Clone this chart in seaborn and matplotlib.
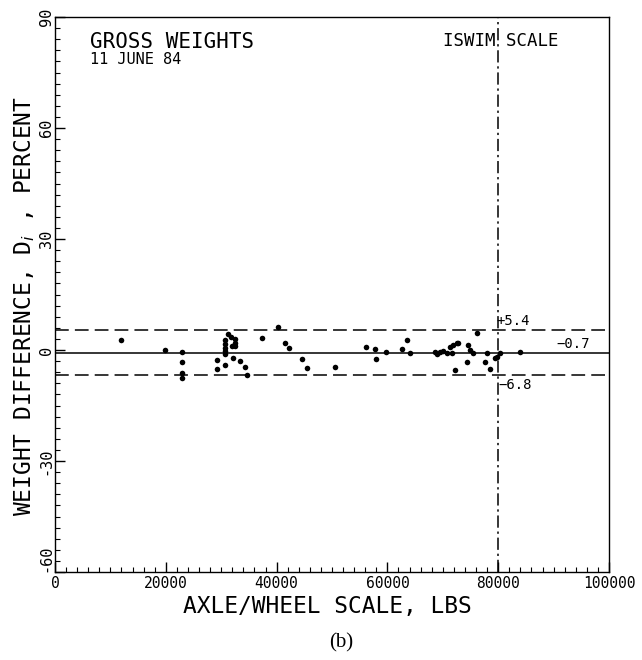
import matplotlib
matplotlib.use("Agg")
import matplotlib.pyplot as plt
import seaborn as sns
import pandas as pd
from matplotlib.ticker import MultipleLocator

# Data
axle_lbs = [12000, 19900, 22900, 22900, 22900, 22900,
            30700, 30700, 30700, 30700, 30700, 31300, 31700, 31900,
            29200, 29200, 30700, 32200, 32500, 32500, 32500, 33400, 34600, 34300,
            40300, 37300, 41500, 42300, 44500, 45400, 50500,
            56100, 57800, 58000, 59700, 62700, 63500, 64100,
            68600, 69000, 69500, 70100, 70700, 71300, 71900, 72500, 72800, 71600,
            74300, 72200, 74600, 74900, 75500, 76100, 77900, 77600, 78500,
            79700, 79400, 80300, 84000]
diff_pct = [2.7, 0.0, -0.5, -3.2, -6.3, -7.5,
            2.7, 1.6, 0.6, -0.3, -1.0, 4.2, 3.6, 1.2,
            -2.7, -5.0, -4.0, -2.2, 3.0, 2.0, 1.0, -2.9, -6.8, -4.5,
            6.3, 3.2, 1.8, 0.5, -2.5, -4.8, -4.5,
            0.7, 0.4, -2.5, -0.6, 0.4, 2.7, -0.9,
            -0.5, -1.0, -0.5, -0.2, -0.9, 0.9, 1.4, 1.8, 2.0, -0.9,
            -3.2, -5.4, 1.4, 0.0, -0.7, 4.5, -0.9, -3.2, -5.0,
            -1.8, -2.2, -0.8, -0.5]

mean_diff = -0.7
upper_lim = 5.4
lower_lim = -6.8
iswim_scale = 80000

x_ticks = [0, 20000, 40000, 60000, 80000, 100000]
y_ticks = [-60, -30, 0, 30, 60, 90]

df = pd.DataFrame({"axle": axle_lbs, "diff": diff_pct})

sns.set_style("white")
plt.rcParams['font.family'] = ['DejaVu Sans Mono', 'DejaVu Sans']
plt.rcParams['text.color'] = 'black'
plt.rcParams['axes.labelcolor'] = 'black'
plt.rcParams['xtick.color'] = 'black'
plt.rcParams['ytick.color'] = 'black'
plt.rcParams['mathtext.fontset'] = 'dejavusans'

fig = plt.figure(figsize=(6.42, 6.6), dpi=100)
ax = fig.add_axes([55/642, 1-572/660, (609-55)/642, (572-17)/660])

sns.scatterplot(data=df, x="axle", y="diff", ax=ax, color="black",
                s=16, edgecolor="black", linewidth=0, legend=False)

ax.axhline(mean_diff, color="black", lw=1.1)
ax.axhline(upper_lim, color="black", lw=1.1, dashes=(9, 4))
ax.axhline(lower_lim, color="black", lw=1.1, dashes=(9, 4))
ax.axvline(iswim_scale, color="black", lw=1.1, dashes=(8, 2.5, 1.5, 2.5))

ax.set_xlim(0, 100000)
ax.set_ylim(-60, 90)
ax.set_xticks(x_ticks)
ax.set_xticklabels([str(v) for v in x_ticks], fontsize=10.5)
ax.set_yticks(y_ticks)
ax.set_yticklabels([str(v) for v in y_ticks], fontsize=11, rotation=90, va="center")
ax.get_yticklabels()[0].set_va("bottom")
ax.xaxis.set_minor_locator(MultipleLocator(2000))
ax.yaxis.set_minor_locator(MultipleLocator(3))
ax.tick_params(which="major", direction="in", length=7, width=1, top=False, right=False, pad=3)
ax.tick_params(which="minor", direction="in", length=3.5, width=0.8, top=False, right=False)
ax.tick_params(axis="x", which="both", bottom=True)
ax.tick_params(axis="y", which="both", left=True, pad=1)

for sp in ax.spines.values():
    sp.set_color("black")
    sp.set_linewidth(1.0)

ax.set_xlabel("AXLE/WHEEL SCALE, LBS", fontsize=16.5)
ax.xaxis.set_label_coords((327-55)/554, -(595-572)/555, transform=ax.transAxes)
ax.set_ylabel("WEIGHT DIFFERENCE, D$_{i}$ , PERCENT", fontsize=16.5)
ax.yaxis.set_label_coords((37-55)/554, (572-306)/555, transform=ax.transAxes)

ax.text(0.063, 0.973, "GROSS WEIGHTS", transform=ax.transAxes, fontsize=15,
        ha="left", va="top")
ax.text(0.063, 0.937, "11 JUNE 84", transform=ax.transAxes, fontsize=11,
        ha="left", va="top")
ax.text(0.70, 0.973, "ISWIM SCALE", transform=ax.transAxes, fontsize=12.5,
        ha="left", va="top")

ax.text(iswim_scale - 400, upper_lim + 2.4, "+5.4", fontsize=10, ha="left", va="center")
ax.text(90500, mean_diff + 2.3, "\u22120.7", fontsize=10, ha="left", va="center")
ax.text(iswim_scale, lower_lim - 2.7, "\u22126.8", fontsize=10, ha="left", va="center")

fig.text(341/642, 1-643/660, "(b)", fontsize=15, ha="center", va="center",
         family="Liberation Serif")

fig.savefig("out.png", dpi=100, facecolor="white")
